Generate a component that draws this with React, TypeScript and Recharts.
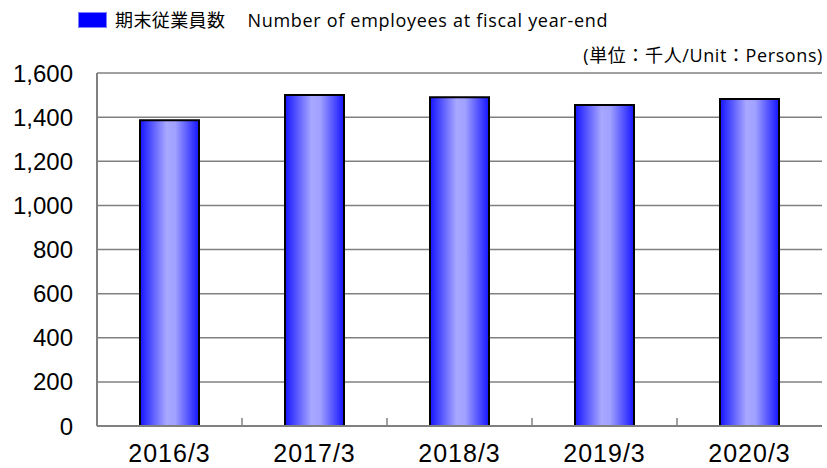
import React from "react";
import { BarChart, Bar, XAxis, YAxis, CartesianGrid, Legend } from "recharts";

const categories = ["2016/3", "2017/3", "2018/3", "2019/3", "2020/3"];
const employees = [1386, 1500, 1490, 1455, 1482];
const yTicks = [0, 200, 400, 600, 800, 1000, 1200, 1400, 1600];
const seriesNameJa = "期末従業員数";
const seriesNameEn = "Number of employees at fiscal year-end";
const unitLabel = "(単位：千人/Unit：Persons)";

const data = categories.map((c, i) => ({ name: c, value: employees[i] }));

if (typeof document !== "undefined") {
  document.body.style.margin = "0";
}

const TEXT_FONT = "'Open Sans', 'Noto Sans CJK JP', sans-serif";

const XTick = (props: any) => {
  const { x, y, payload, index } = props;
  const off = payload && payload.offset ? payload.offset : 0;
  return (
    <g>
      {index > 0 && (
        <line x1={x - off} x2={x - off} y1={y} y2={y - 8} stroke="#808080" strokeWidth={1.5} />
      )}
      <text
        x={x}
        y={y + 36}
        textAnchor="middle"
        fill="#000"
        fontSize={25}
        letterSpacing={1}
        fontFamily="'Liberation Sans', Arial, sans-serif"
      >
        {payload.value}
      </text>
    </g>
  );
};

const LegendContent = () => (
  <div style={{ display: "flex", alignItems: "center", fontFamily: TEXT_FONT, fontSize: 18, color: "#000", lineHeight: "20px" }}>
    <span
      style={{
        display: "inline-block",
        width: 27,
        height: 14,
        background: "#0000FF",
        border: "1px solid #8080FF",
        marginRight: 8,
      }}
    />
    <span style={{ whiteSpace: "nowrap", letterSpacing: 0.4 }}>{seriesNameJa}</span>
    <span style={{ whiteSpace: "nowrap", marginLeft: 22, letterSpacing: 0.7 }}>{seriesNameEn}</span>
  </div>
);

export default function App() {
  return (
    <div style={{ position: "relative", width: 827, height: 468, background: "#fff" }}>
      <BarChart width={827} height={468} data={data} margin={{ top: 73, right: 5, left: 0, bottom: 0 }}>
        <defs>
          <linearGradient id="barGrad" x1="0" y1="0" x2="1" y2="0">
            <stop offset="0%" stopColor="#1515FF" />
            <stop offset="45%" stopColor="#A8A8FF" />
            <stop offset="60%" stopColor="#A0A0FF" />
            <stop offset="100%" stopColor="#1515FF" />
          </linearGradient>
        </defs>
        <CartesianGrid vertical={false} stroke="#808080" strokeWidth={1.5} />
        <XAxis
          dataKey="name"
          height={42}
          axisLine={{ stroke: "#808080", strokeWidth: 2 }}
          tickLine={false}
          tickSize={0}
          tickMargin={0}
          tick={<XTick />}
          interval={0}
        />
        <YAxis
          width={97}
          domain={[0, 1600]}
          ticks={yTicks}
          axisLine={{ stroke: "#808080", strokeWidth: 2 }}
          tickLine={false}
          tickSize={0}
          tickMargin={24}
          tickFormatter={(v: number) => v.toLocaleString("en-US")}
          tick={{ fill: "#000", fontSize: 24, fontFamily: "'Liberation Sans', Arial, sans-serif" }}
        />
        <YAxis
          yAxisId="right"
          orientation="right"
          width={0}
          domain={[0, 1600]}
          ticks={yTicks}
          tick={false}
          tickLine={false}
          axisLine={{ stroke: "#808080", strokeWidth: 2 }}
        />
        <Legend
          verticalAlign="middle"
          align="center"
          content={<LegendContent />}
          wrapperStyle={{ position: "absolute", top: 10, left: 78, width: "auto" }}
        />
        <Bar
          dataKey="value"
          name={seriesNameJa + " " + seriesNameEn}
          fill="url(#barGrad)"
          stroke="#000"
          strokeWidth={2}
          barSize={59}
          isAnimationActive={false}
        />
      </BarChart>
      <div
        style={{
          position: "absolute",
          right: 4,
          top: 43,
          fontFamily: TEXT_FONT,
          fontSize: 18,
          letterSpacing: 0.6,
          lineHeight: "24px",
          color: "#000",
          whiteSpace: "nowrap",
        }}
      >
        {unitLabel}
      </div>
    </div>
  );
}
